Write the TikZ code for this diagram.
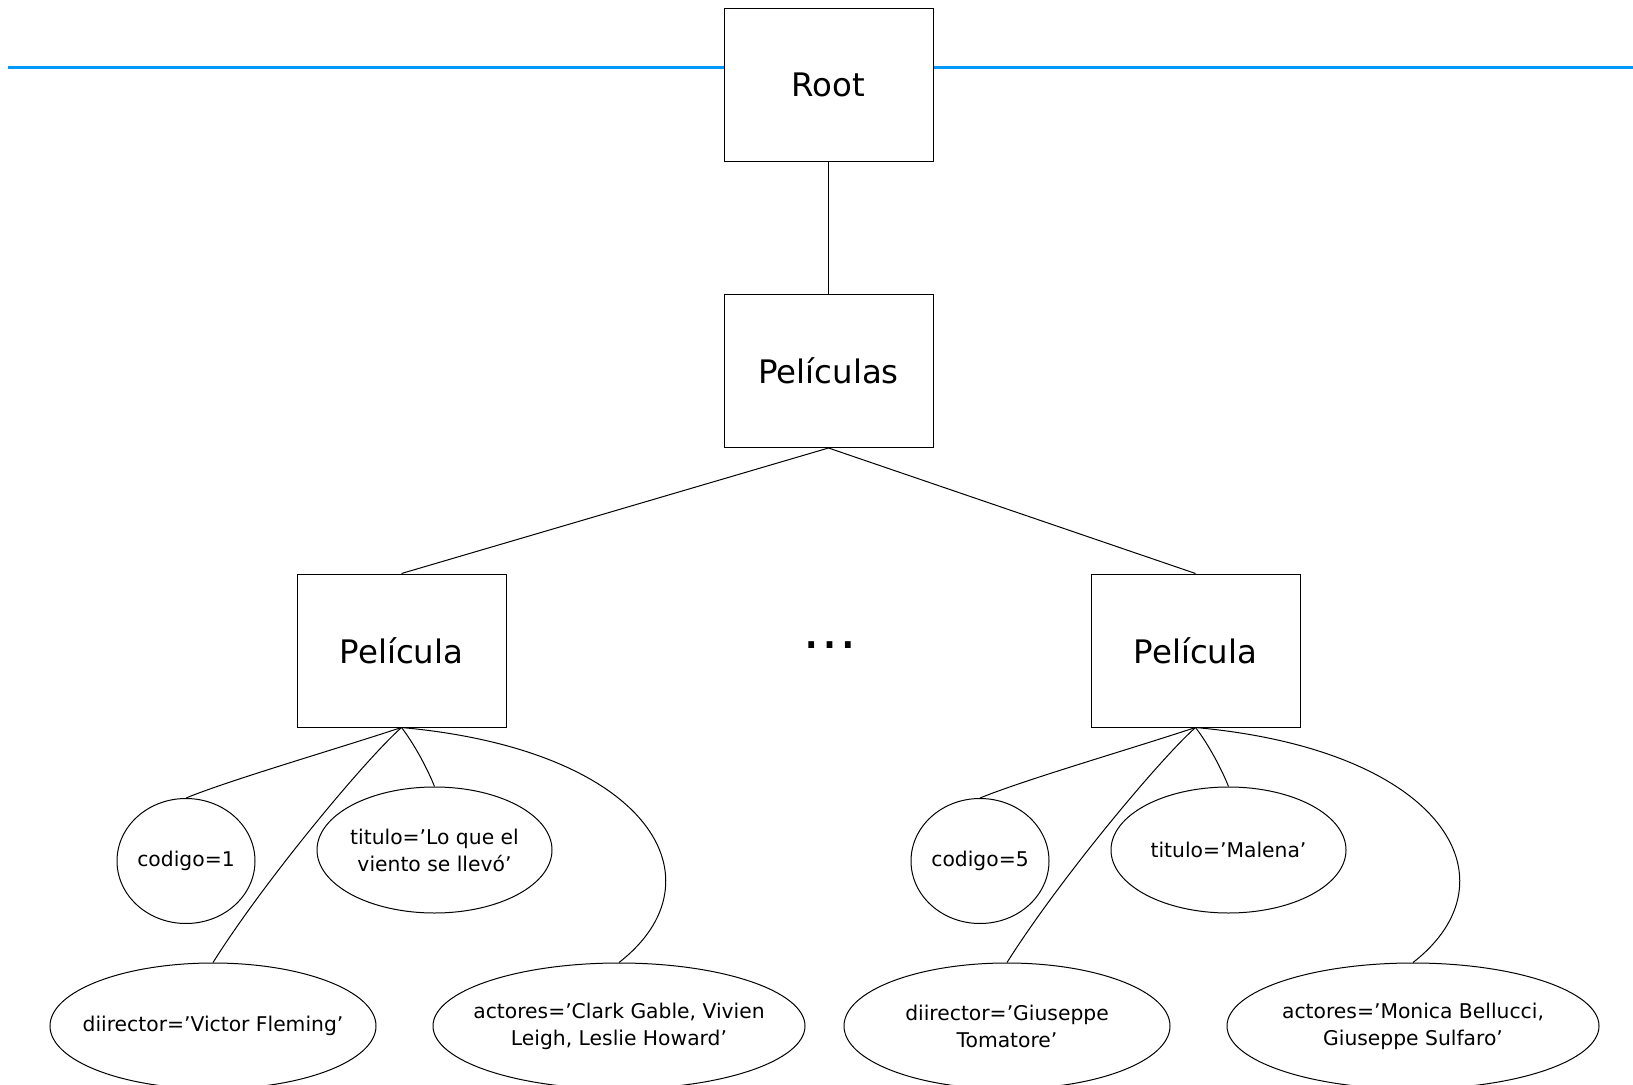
\documentclass[tikz,border=0pt]{standalone}
\usepackage{fontspec}
\setmainfont{DejaVu Sans}
\usetikzlibrary{shapes.geometric}
\definecolor{lineblue}{RGB}{0,153,255}
\tikzset{
  box/.style={draw, line width=0.5pt, fill=white, minimum width=104.5pt, minimum height=76.5pt, inner sep=0pt, font=\fontsize{16.2}{19}\selectfont},
  ell/.style={draw, ellipse, line width=0.5pt, inner sep=0pt},
  lbl/.style={align=center, font=\fontsize{10.15}{13.5}\selectfont, inner sep=0pt},
  conn/.style={line width=0.5pt},
}
\begin{document}
\begin{tikzpicture}[x=0.5pt,y=-0.5pt]
\useasboundingbox (0,0) rectangle (1633,1085);
\clip (0,0) rectangle (1633,1085);
\coordinate (bl) at (8,67.5);
\coordinate (br) at (1633,67.5);
\draw[lineblue, line width=1.7pt] (bl) -- (br);

\node[box] (root) at (828.5,85) {Root};
\node[box] (pels) at (828.5,371) {Películas};
\node[box] (p1) at (401.5,650.5) {Película};
\node[box] (p2) at (1195.5,650.5) {Película};
\node[inner sep=0pt, anchor=base, font=\fontsize{27.5}{30}\selectfont] (dots) at (830,648) {…};

\draw[conn] (root.south) -- (pels.north);
\draw[conn] (pels.south) -- (p1.north);
\draw[conn] (pels.south) -- (p2.north);

\node[ell, minimum width=69pt, minimum height=62.5pt, label={[lbl]center:{codigo=1}}] (c1) at (186,861) {};
\node[ell, minimum width=117.5pt, minimum height=63pt, label={[lbl]center:{titulo=’Lo que el\\viento se llevó’}}] (t1) at (434.5,850) {};
\node[ell, minimum width=163pt, minimum height=63pt, label={[lbl]center:{diirector=’Victor Fleming’}}] (d1) at (213,1026) {};
\node[ell, minimum width=186pt, minimum height=63pt, label={[lbl]center:{actores=’Clark Gable, Vivien\\Leigh, Leslie Howard’}}] (a1) at (619,1026) {};

\draw[conn] (p1.south) .. controls (330,751) and (230,780) .. (c1.north);
\draw[conn] (p1.south) .. controls (415,745) and (428,770) .. (t1.north);
\draw[conn] (p1.south) .. controls (365,760) and (265,880) .. (d1.north);
\draw[conn] (p1.south) .. controls (650,750) and (725,880) .. (a1.north);

\begin{scope}[shift={(794,0)}]
\node[ell, minimum width=69pt, minimum height=62.5pt, label={[lbl]center:{codigo=5}}] (c2) at (186,861) {};
\node[ell, minimum width=117.5pt, minimum height=63pt, label={[lbl]center:{titulo=’Malena’}}] (t2) at (434.5,850) {};
\node[ell, minimum width=163pt, minimum height=63pt, label={[lbl]center:{diirector=’Giuseppe\\Tomatore’}}] (d2) at (213,1026) {};
\node[ell, minimum width=186pt, minimum height=63pt, label={[lbl]center:{actores=’Monica Bellucci,\\Giuseppe Sulfaro’}}] (a2) at (619,1026) {};

\draw[conn] (p2.south) .. controls (330,751) and (230,780) .. (c2.north);
\draw[conn] (p2.south) .. controls (415,745) and (428,770) .. (t2.north);
\draw[conn] (p2.south) .. controls (365,760) and (265,880) .. (d2.north);
\draw[conn] (p2.south) .. controls (650,750) and (725,880) .. (a2.north);
\end{scope}
\end{tikzpicture}
\end{document}
